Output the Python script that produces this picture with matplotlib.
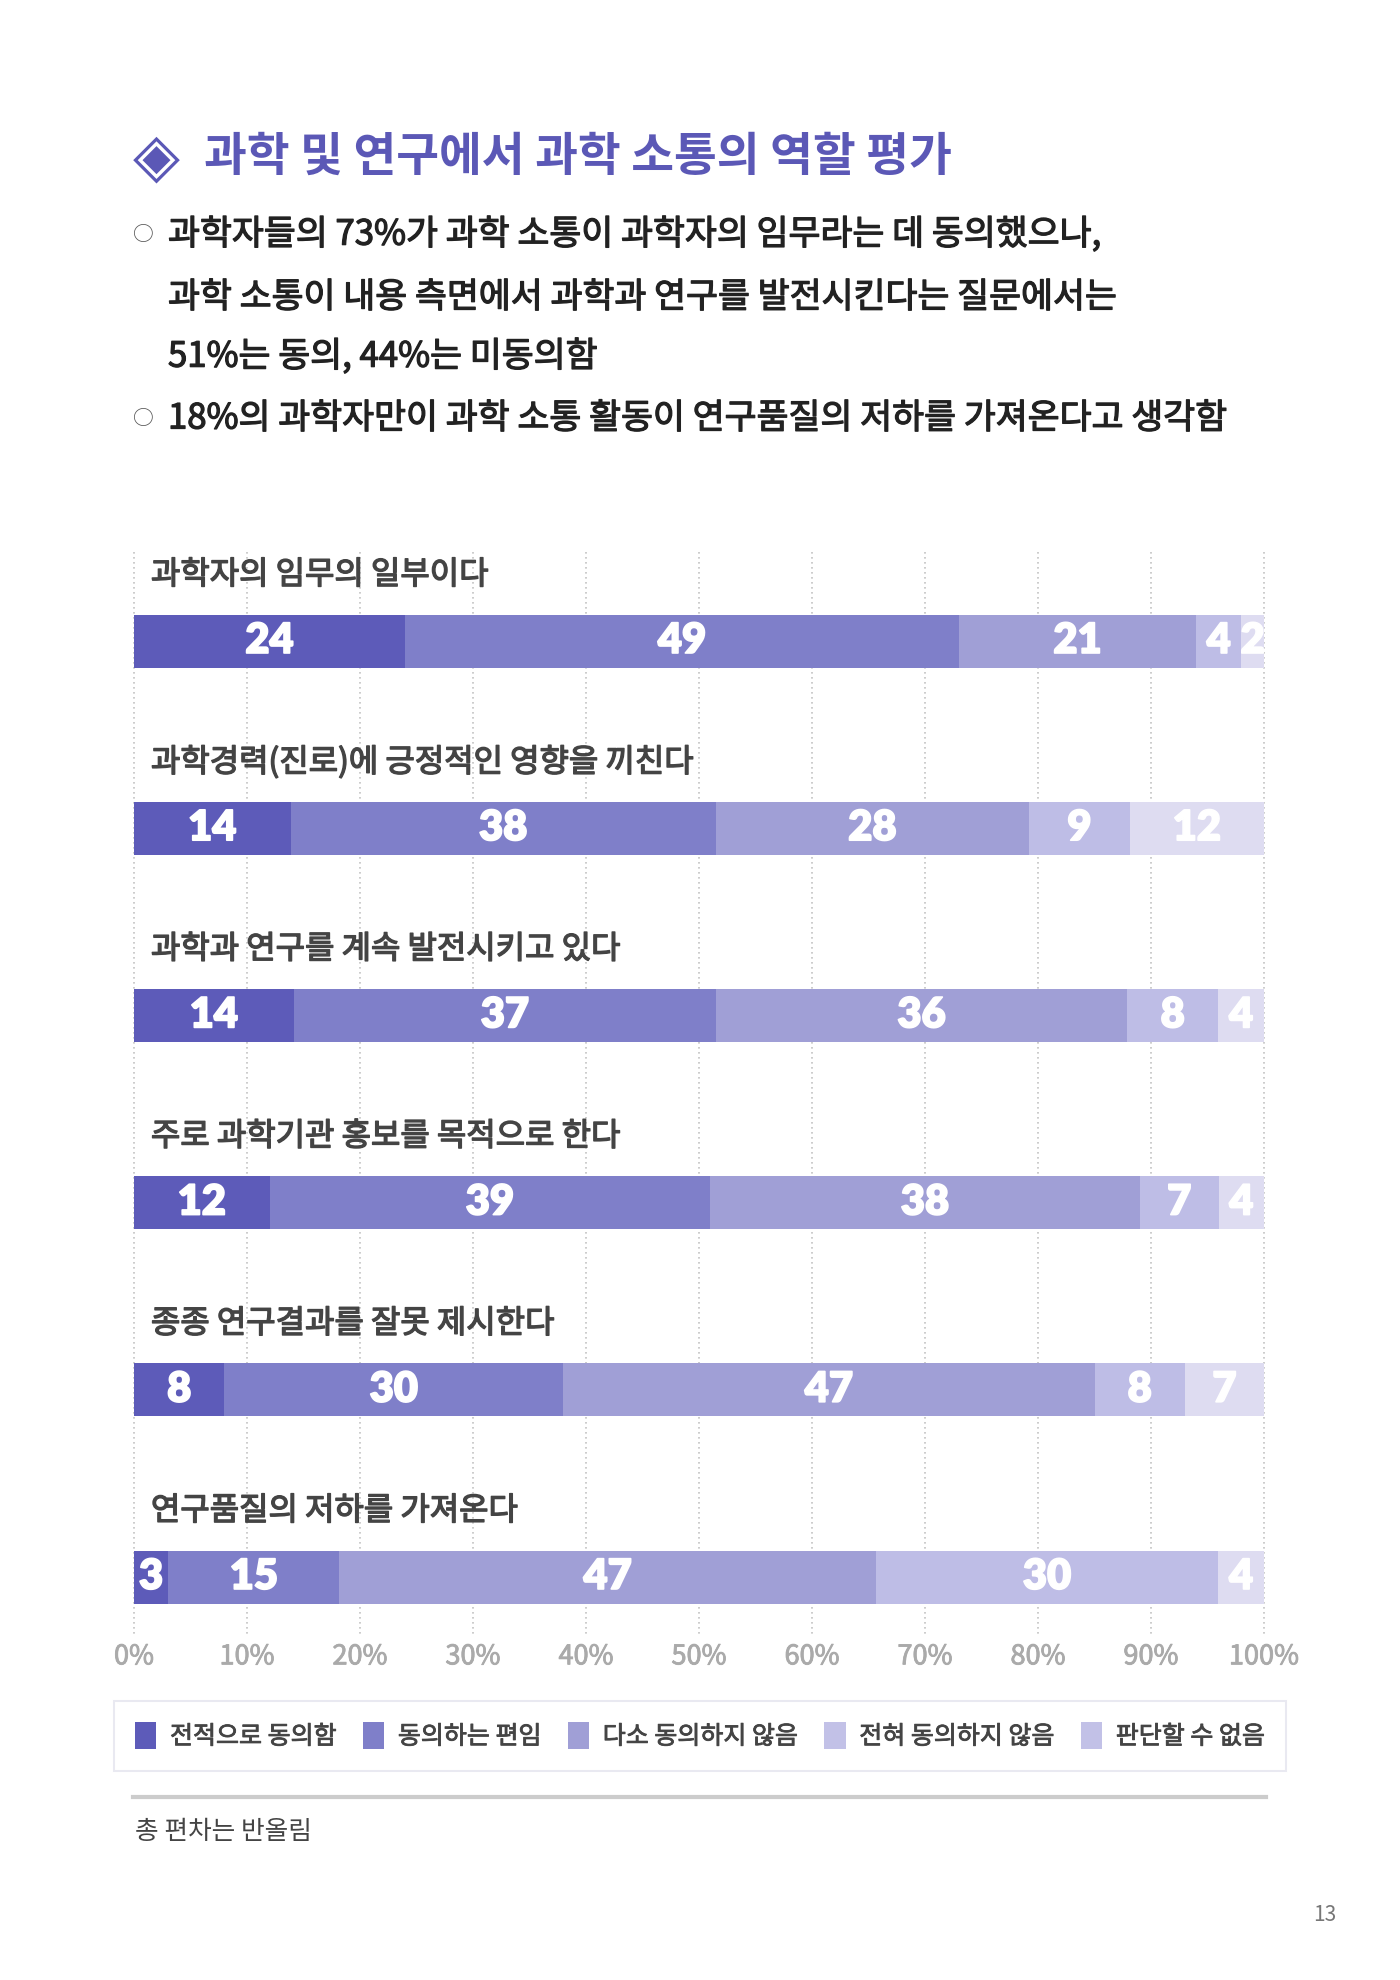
import numpy as np
import matplotlib.pyplot as plt
import matplotlib.patheffects as pe
from matplotlib.patches import Patch
from matplotlib.lines import Line2D

plt.rcParams['font.family'] = ['Noto Sans CJK KR', 'DejaVu Sans']

# ---- data ----
title = '과학 및 연구에서 과학 소통의 역할 평가'
bullet_lines = ['과학자들의 73%가 과학 소통이 과학자의 임무라는 데 동의했으나,',
                '과학 소통이 내용 측면에서 과학과 연구를 발전시킨다는 질문에서는',
                '51%는 동의, 44%는 미동의함',
                '18%의 과학자만이 과학 소통 활동이 연구품질의 저하를 가져온다고 생각함']
bullet_marks = [True, False, False, True]

questions = ['과학자의 임무의 일부이다',
             '과학경력(진로)에 긍정적인 영향을 끼친다',
             '과학과 연구를 계속 발전시키고 있다',
             '주로 과학기관 홍보를 목적으로 한다',
             '종종 연구결과를 잘못 제시한다',
             '연구품질의 저하를 가져온다']
categories = ['전적으로 동의함', '동의하는 편임', '다소 동의하지 않음',
              '전혀 동의하지 않음', '판단할 수 없음']
agree_fully = [24, 14, 14, 12, 8, 3]
agree_some = [49, 38, 37, 39, 30, 15]
disagree_some = [21, 28, 36, 38, 47, 47]
disagree_fully = [4, 9, 8, 7, 8, 30]
cannot_say = [2, 12, 4, 4, 7, 4]
tick_values = list(range(0, 101, 10))
tick_labels = [f'{t}%' for t in tick_values]
note = '총 편차는 반올림'
page_no = '13'

colors = ['#5d5bb9', '#7f7fc9', '#a09fd6', '#bebde6', '#dedcf1']
legend_colors = ['#5d5bb9', '#7f7fc9', '#a09fd6', '#c2c1e7', '#c2c1e7']
title_color = '#5b58b6'

W, H = 1400, 1980
fig = plt.figure(figsize=(W / 100, H / 100), dpi=100)


def fx(x):
    return x / W


def fy(y):
    return 1 - y / H


def medium(color, lw=0.7):
    # fake a medium weight with a thin outline
    return [pe.withStroke(linewidth=lw, foreground=color)]


# ---- header ----
fig.text(fx(156), fy(158), '◈', color=title_color, fontsize=44,
         ha='center', va='center')
fig.text(fx(204), fy(157), title, color=title_color, fontsize=33.5,
         fontweight='bold', ha='left', va='center')

line_y = [235, 298, 357, 419]
for txt, mark, y in zip(bullet_lines, bullet_marks, line_y):
    if mark:
        fig.text(fx(143), fy(y), '○', color='#555555', fontsize=15,
                 ha='center', va='center')
    fig.text(fx(168), fy(y), txt, color='#222222', fontsize=25,
             ha='left', va='center', path_effects=medium('#222222', 0.9))

# ---- chart ----
left_px, right_px, top_px, bot_px = 134, 1264, 552, 1635
ax = fig.add_axes([fx(left_px), fy(bot_px), fx(right_px - left_px),
                   (bot_px - top_px) / H])
ax.set_xlim(0, 100)
ax.set_ylim(bot_px - top_px, 0)

series = np.array([agree_fully, agree_some, disagree_some,
                   disagree_fully, cannot_say], dtype=float)
totals = series.sum(axis=0)
shares = series / totals * 100

row_gap = 187.2
first_center = 89
bar_h = 53
centers = first_center + np.arange(len(questions)) * row_gap

for t in tick_values:
    ax.vlines(t, 0, bot_px - top_px, colors='#c4c4c4', linestyles=(0, (1, 2)),
              linewidth=1.2, zorder=0, clip_on=False)

lefts = np.zeros(len(questions))
for k in range(len(categories)):
    ax.barh(centers, shares[k], left=lefts, height=bar_h, color=colors[k],
            edgecolor='none', zorder=2)
    for i in range(len(questions)):
        ax.text(lefts[i] + shares[k][i] / 2, centers[i], f'{int(series[k][i])}',
                color='white', fontsize=30, fontweight='heavy',
                family=['Lato', 'DejaVu Sans'], ha='center', va='center',
                zorder=3, path_effects=medium('white', 1.2))
    lefts += shares[k]

for q, c in zip(questions, centers):
    ax.text(1.5, c - 66, q, color='#444444', fontsize=23,
            ha='left', va='center', path_effects=medium('#444444', 1.0))

ax.set_xticks(tick_values)
ax.set_xticklabels(tick_labels, color='#aaaaaa', fontsize=19.5)
for lab in ax.get_xticklabels():
    lab.set_path_effects(medium('#aaaaaa', 0.6))
ax.tick_params(axis='x', length=0, pad=6)
ax.set_yticks([])
for s in ax.spines.values():
    s.set_visible(False)
ax.patch.set_alpha(0)

# ---- legend ----
handles = [Patch(facecolor=c, edgecolor='none') for c in legend_colors]
leg = fig.legend(handles, categories, loc='center',
                 bbox_to_anchor=(fx(700), fy(1736)), ncol=5, frameon=True,
                 fontsize=18, handlelength=0.85, handleheight=1.25,
                 handletextpad=0.55, columnspacing=1.05, borderpad=0.85,
                 fancybox=False, edgecolor='#e4e4ee')
leg.get_frame().set_linewidth(1.5)
for t in leg.get_texts():
    t.set_color('#444444')
    t.set_path_effects(medium('#444444', 0.6))

# ---- footer ----
fig.add_artist(Line2D([fx(133), fx(1266)], [fy(1797), fy(1797)],
                      color='#cccccc', lw=3))
fig.text(fx(135), fy(1832), note, color='#444444', fontsize=18.5,
         ha='left', va='center')
fig.text(fx(1325), fy(1915), page_no, color='#777777', fontsize=15,
         ha='center', va='center')

fig.savefig('out.png', dpi=100, facecolor='white')
